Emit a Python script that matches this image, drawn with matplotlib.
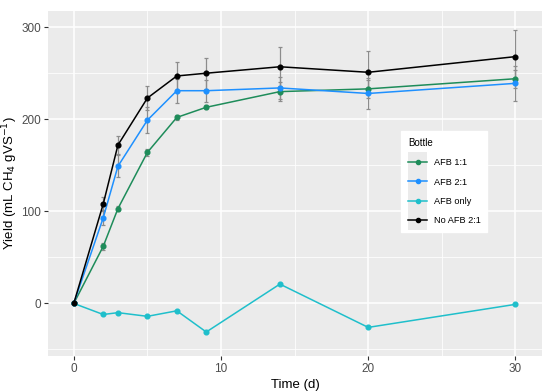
import matplotlib
matplotlib.use("Agg")
import matplotlib.pyplot as plt
from matplotlib.lines import Line2D
from matplotlib.patches import Rectangle
from matplotlib.legend_handler import HandlerLine2D

plt.rcParams['font.family'] = ['Liberation Sans', 'DejaVu Sans']

time = [0, 2, 3, 5, 7, 9, 14, 20, 30]
series_names = ["AFB 1:1", "AFB 2:1", "AFB only", "No AFB 2:1"]
afb_11 = [0, 62, 103, 164, 202, 213, 230, 233, 244]
afb_11_err = [0, 4, 3, 4, 3, 2, 10, 10, 10]
afb_21 = [0, 93, 149, 199, 231, 231, 234, 228, 239]
afb_21_err = [0, 8, 12, 14, 13, 12, 12, 17, 19]
afb_only = [0, -12, -10, -14, -8, -31, 21, -26, -1]
afb_only_err = [0, 0, 0, 0, 0, 0, 0, 0, 0]
no_afb_21 = [0, 108, 172, 223, 247, 250, 257, 251, 268]
no_afb_21_err = [0, 8, 10, 13, 15, 17, 21, 23, 29]

colors = ["#1E8C5A", "#1E90FF", "#1FBFCB", "#000000"]
values = [afb_11, afb_21, afb_only, no_afb_21]
errors = [afb_11_err, afb_21_err, afb_only_err, no_afb_21_err]


class KeyHandler(HandlerLine2D):
    def create_artists(self, legend, orig_handle, xdescent, ydescent, width, height, fontsize, trans):
        arts = super().create_artists(legend, orig_handle, xdescent, ydescent, width, height, fontsize, trans)
        yc = (height - ydescent) / 2.0
        pitch = 14.6
        rect = Rectangle((-xdescent, yc - pitch / 2), width, pitch, facecolor='#EBEBEB',
                         edgecolor='none', transform=trans)
        return [rect] + list(arts)


fig = plt.figure(figsize=(5.5, 3.92), dpi=100)
ax = fig.add_axes([0.0873, 0.092, 0.898, 0.881])
ax.set_facecolor("#EBEBEB")

for v, e in zip(values, errors):
    ax.errorbar(time, v, yerr=e, fmt='none', ecolor='#8C8C8C', elinewidth=0.9,
                capsize=1.5, capthick=0.9, zorder=2)
for name, v, c in zip(series_names, values, colors):
    ax.plot(time, v, color=c, lw=1.1, marker='o', ms=3.4, mec=c, mfc=c, label=name, zorder=3)

ax.set_xlim(-1.75, 31.8)
ax.set_ylim(-57, 318)
ax.set_xticks([0, 10, 20, 30])
ax.set_yticks([0, 100, 200, 300])
ax.set_xticks([5, 15, 25], minor=True)
ax.set_yticks([-50, 50, 150, 250], minor=True)
ax.grid(which='major', color='white', lw=1.1)
ax.grid(which='minor', color='white', lw=0.55)
ax.set_axisbelow(True)
for s in ax.spines.values():
    s.set_visible(False)
ax.tick_params(which='major', length=3, color='#333333', width=0.8, labelsize=8.5, labelcolor='#4D4D4D', pad=2)
ax.tick_params(which='minor', length=0)

ax.set_xlabel("Time (d)", fontsize=9.5, labelpad=3)
ax.set_ylabel(r"Yield (mL CH$_4$ gVS$^{-1}$)", fontsize=9.5)
ax.yaxis.set_label_coords(-0.057, 0.5)

handles = [Line2D([], [], color=c, lw=1.1, marker='o', ms=3) for c in colors]
leg = ax.legend(handles=handles, labels=series_names, title="Bottle", loc='upper left',
                bbox_to_anchor=(0.715, 0.651), borderaxespad=0,
                handler_map={Line2D: KeyHandler()},
                fontsize=6.6, title_fontsize=7, frameon=True, fancybox=False,
                edgecolor='white', facecolor='white', framealpha=1,
                handlelength=2.1, labelspacing=1.12,
                handletextpad=0.7, borderpad=0.75)
leg._legend_box.align = "left"

fig.savefig("out.png", dpi=100)
